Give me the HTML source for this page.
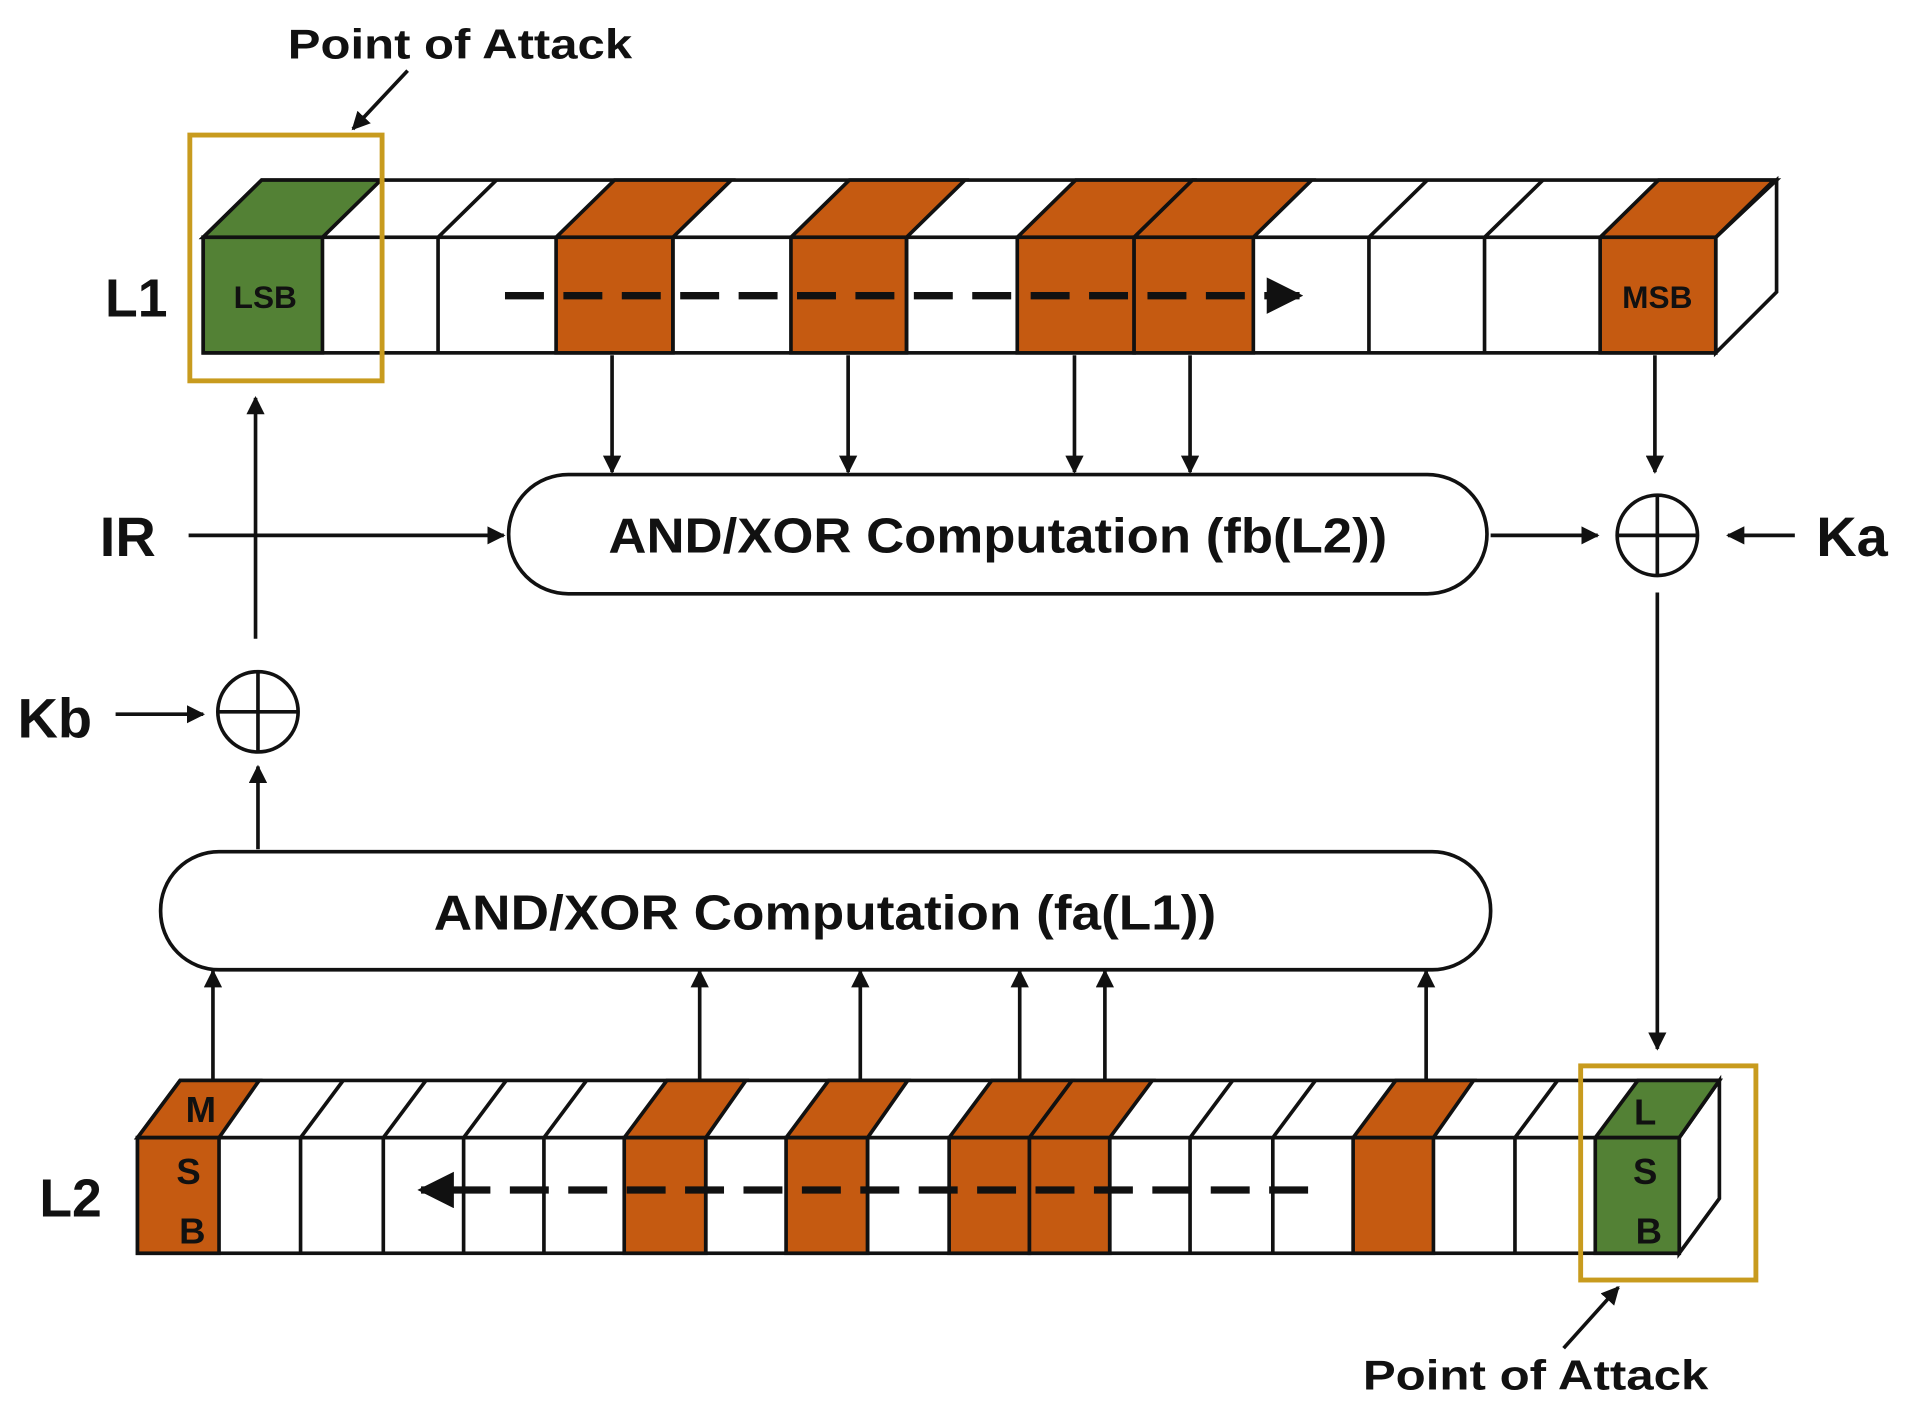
<!DOCTYPE html>
<html><head><meta charset="utf-8"><style>html,body{margin:0;padding:0;background:#fff}svg{display:block}text{font-family:"Liberation Sans",sans-serif;font-weight:bold;fill:#111}</style></head>
<body>
<svg width="1908" height="1409" viewBox="0 0 1568 1158" preserveAspectRatio="none" xmlns="http://www.w3.org/2000/svg">
<defs>
<marker id="ah" viewBox="0 0 10 10" refX="9" refY="5" markerWidth="5" markerHeight="5" orient="auto"><path d="M0,0 L10,5 L0,10 z" fill="#111"/></marker>
</defs>
<g stroke="#111" stroke-width="3" fill="#fff">
<!-- L1 bar -->
<polygon points="1410,195 1460,148 1460,240 1410,290" fill="#fff"/>
<polygon points="167,195 215,148 1460,148 1410,195" fill="#fff"/>
<g id="l1top">
<polygon points="167,195 215,148 313,148 265,195" fill="#538135"/>
<polygon points="457,195 505,148 601,148 553,195" fill="#c55a11"/>
<polygon points="650,195 698,148 793,148 745,195" fill="#c55a11"/>
<polygon points="836,195 884,148 980,148 932,195" fill="#c55a11"/>
<polygon points="932,195 980,148 1078,148 1030,195" fill="#c55a11"/>
<polygon points="1315,195 1363,148 1458,148 1410,195" fill="#c55a11"/>
<line x1="360" y1="195" x2="408" y2="148"/>
<line x1="1125" y1="195" x2="1173" y2="148"/>
<line x1="1220" y1="195" x2="1268" y2="148"/>
</g>
<rect x="167" y="195" width="1243" height="95" fill="#fff"/>
<rect x="167" y="195" width="98" height="95" fill="#538135"/>
<rect x="457" y="195" width="96" height="95" fill="#c55a11"/>
<rect x="650" y="195" width="95" height="95" fill="#c55a11"/>
<rect x="836" y="195" width="96" height="95" fill="#c55a11"/>
<rect x="932" y="195" width="98" height="95" fill="#c55a11"/>
<rect x="1315" y="195" width="95" height="95" fill="#c55a11"/>
<line x1="360" y1="195" x2="360" y2="290"/><line x1="745" y1="195" x2="745" y2="290"/>
<line x1="1125" y1="195" x2="1125" y2="290"/><line x1="1220" y1="195" x2="1220" y2="290"/>
<line x1="553" y1="195" x2="553" y2="290"/>

<!-- L2 bar -->
<polygon points="1380,935 1413,888 1413,985 1380,1030" fill="#fff"/>
<polygon points="113,935 148,888 1413,888 1380,935" fill="#fff"/>
<polygon points="113,935 148,888 213,888 180,935" fill="#c55a11"/>
<polygon points="513,935 548,888 613,888 580,935" fill="#c55a11"/>
<polygon points="646,935 681,888 746,888 713,935" fill="#c55a11"/>
<polygon points="780,935 815,888 881,888 846,935" fill="#c55a11"/>
<polygon points="846,935 881,888 947,888 912,935" fill="#c55a11"/>
<polygon points="1112,935 1147,888 1211,888 1178,935" fill="#c55a11"/>
<polygon points="1311,935 1346,888 1413,888 1380,935" fill="#538135"/>
<g>
<line x1="247" y1="935" x2="282" y2="888"/><line x1="315" y1="935" x2="350" y2="888"/>
<line x1="381" y1="935" x2="416" y2="888"/><line x1="447" y1="935" x2="482" y2="888"/>
<line x1="978" y1="935" x2="1013" y2="888"/><line x1="1046" y1="935" x2="1081" y2="888"/>
<line x1="1245" y1="935" x2="1280" y2="888"/>
</g>
<rect x="113" y="935" width="1267" height="95" fill="#fff"/>
<rect x="113" y="935" width="67" height="95" fill="#c55a11"/>
<rect x="513" y="935" width="67" height="95" fill="#c55a11"/>
<rect x="646" y="935" width="67" height="95" fill="#c55a11"/>
<rect x="780" y="935" width="66" height="95" fill="#c55a11"/>
<rect x="846" y="935" width="66" height="95" fill="#c55a11"/>
<rect x="1112" y="935" width="66" height="95" fill="#c55a11"/>
<rect x="1311" y="935" width="69" height="95" fill="#538135"/>
<g>
<line x1="247" y1="935" x2="247" y2="1030"/><line x1="315" y1="935" x2="315" y2="1030"/>
<line x1="381" y1="935" x2="381" y2="1030"/><line x1="447" y1="935" x2="447" y2="1030"/>
<line x1="713" y1="935" x2="713" y2="1030"/><line x1="978" y1="935" x2="978" y2="1030"/>
<line x1="1046" y1="935" x2="1046" y2="1030"/><line x1="1245" y1="935" x2="1245" y2="1030"/>
<line x1="580" y1="935" x2="580" y2="1030"/><line x1="912" y1="935" x2="912" y2="1030"/>
</g>

<!-- pills -->
<rect x="418" y="390" width="804" height="98" rx="49" fill="#fff"/>
<rect x="132" y="700" width="1093" height="97" rx="48" fill="#fff"/>
<!-- XOR circles -->
<circle cx="1362" cy="440" r="33" fill="#fff"/>
<line x1="1329" y1="440" x2="1395" y2="440"/><line x1="1362" y1="407" x2="1362" y2="473"/>
<circle cx="212" cy="585" r="33" fill="#fff"/>
<line x1="179" y1="585" x2="245" y2="585"/><line x1="212" y1="552" x2="212" y2="618"/>
</g>

<!-- gold boxes -->
<rect x="156" y="111" width="158" height="202" fill="none" stroke="#c89b1e" stroke-width="4"/>
<rect x="1299" y="876" width="144" height="176" fill="none" stroke="#c89b1e" stroke-width="4"/>

<!-- arrows -->
<g stroke="#111" stroke-width="3" fill="none" marker-end="url(#ah)">
<line x1="335" y1="58" x2="290" y2="106"/>
<line x1="1285" y1="1108" x2="1330" y2="1058"/>
<line x1="503" y1="292" x2="503" y2="388"/>
<line x1="697" y1="292" x2="697" y2="388"/>
<line x1="883" y1="292" x2="883" y2="388"/>
<line x1="978" y1="292" x2="978" y2="388"/>
<line x1="1360" y1="292" x2="1360" y2="388"/>
<line x1="155" y1="440" x2="414" y2="440"/>
<line x1="210" y1="525" x2="210" y2="327"/>
<line x1="1225" y1="440" x2="1313" y2="440"/>
<line x1="1475" y1="440" x2="1420" y2="440"/>
<line x1="1362" y1="487" x2="1362" y2="862"/>
<line x1="95" y1="587" x2="167" y2="587"/>
<line x1="212" y1="698" x2="212" y2="630"/>
<line x1="175" y1="888" x2="175" y2="798"/>
<line x1="575" y1="888" x2="575" y2="798"/>
<line x1="707" y1="888" x2="707" y2="798"/>
<line x1="838" y1="888" x2="838" y2="798"/>
<line x1="908" y1="888" x2="908" y2="798"/>
<line x1="1172" y1="888" x2="1172" y2="798"/>
</g>
<g stroke="#111" stroke-width="6" fill="none" marker-end="url(#ah)" stroke-dasharray="32 16">
<line x1="415" y1="243" x2="1068" y2="243"/>
<line x1="1075" y1="978" x2="346" y2="978"/>
</g>

<!-- text -->
<text x="378" y="48" font-size="34" text-anchor="middle" textLength="283" lengthAdjust="spacingAndGlyphs">Point of Attack</text>
<text x="1262" y="1142" font-size="34" text-anchor="middle" textLength="284" lengthAdjust="spacingAndGlyphs">Point of Attack</text>
<text x="112" y="260" font-size="44" text-anchor="middle">L1</text>
<text x="58" y="1000" font-size="44" text-anchor="middle">L2</text>
<text x="105" y="457" font-size="46" text-anchor="middle">IR</text>
<text x="45" y="606" font-size="46" text-anchor="middle">Kb</text>
<text x="1522" y="457" font-size="46" text-anchor="middle">Ka</text>
<text x="218" y="253" font-size="26" text-anchor="middle">LSB</text>
<text x="1362" y="253" font-size="26" text-anchor="middle">MSB</text>
<text x="820" y="454" font-size="40" text-anchor="middle" textLength="640" lengthAdjust="spacingAndGlyphs">AND/XOR Computation (fb(L2))</text>
<text x="678" y="764" font-size="40" text-anchor="middle" textLength="643" lengthAdjust="spacingAndGlyphs">AND/XOR Computation (fa(L1))</text>
<text x="165" y="922" font-size="30" text-anchor="middle">M</text>
<text x="155" y="973" font-size="30" text-anchor="middle">S</text>
<text x="158" y="1022" font-size="30" text-anchor="middle">B</text>
<text x="1352" y="924" font-size="30" text-anchor="middle">L</text>
<text x="1352" y="973" font-size="30" text-anchor="middle">S</text>
<text x="1355" y="1022" font-size="30" text-anchor="middle">B</text>
</svg>
</body></html>
